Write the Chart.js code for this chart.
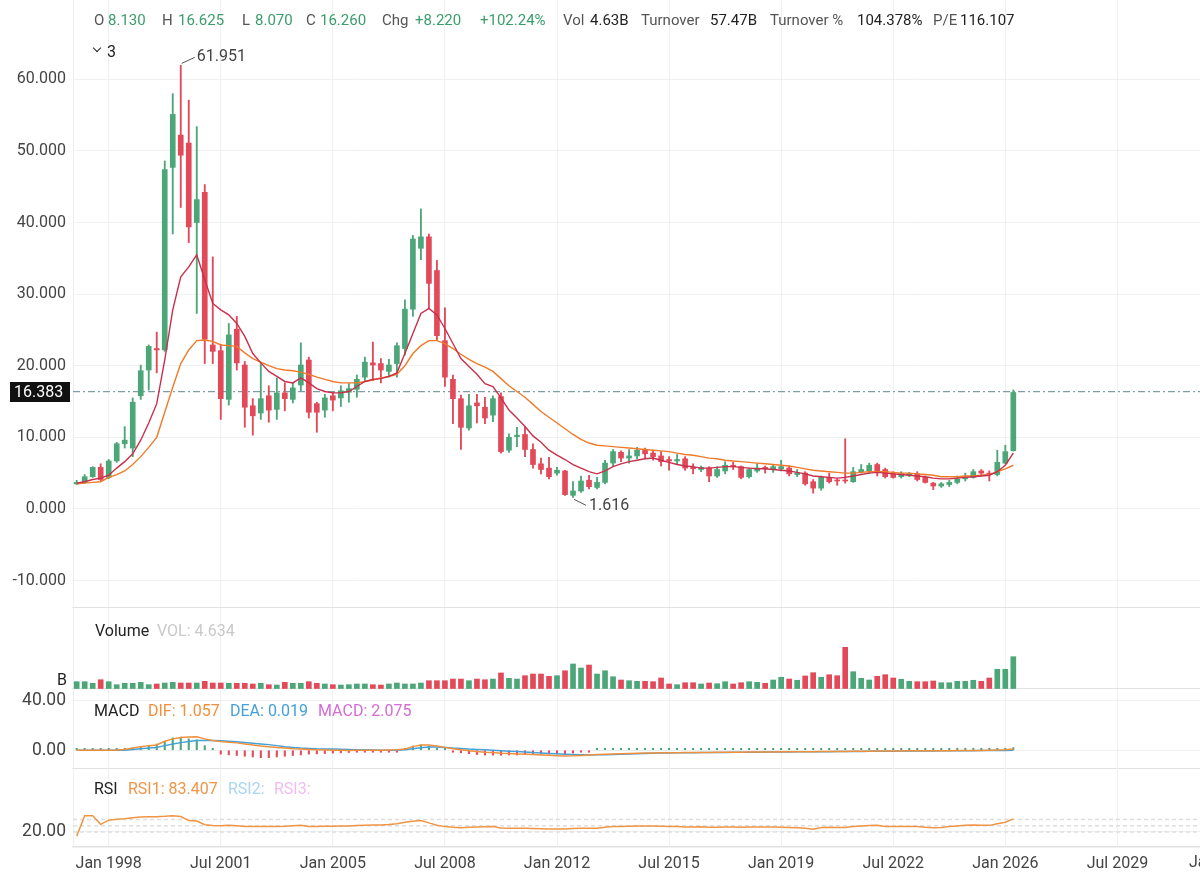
<!DOCTYPE html>
<html>
<head>
<meta charset="utf-8">
<script src="https://cdn.jsdelivr.net/npm/chart.js@4.4.0/dist/chart.umd.min.js"></script>
<style>
  html, body { margin: 0; padding: 0; background: #fff; overflow: hidden; }
  #wrap { position: relative; width: 1200px; height: 878px; overflow: hidden; font-family: Roboto, "Noto Sans", sans-serif; }
  canvas { position: absolute; left: 0; }
  .t { position: absolute; white-space: nowrap; font-size: 16px; line-height: 20px; }
  .hd { font-size: 15px; }
  .lab { color: #555; }
  .up { color: #3a9d6c; }
  .dk { color: #222; }
  .chev { position: absolute; left: 94px; top: 45px; width: 5px; height: 5px; border-right: 1.5px solid #222; border-bottom: 1.5px solid #222; transform: rotate(45deg); }
</style>
</head>
<body>
<div id="wrap">
  <canvas id="priceChart" width="1200" height="608" style="top:0"></canvas>
  <canvas id="volumeChart" width="1200" height="81" style="top:608px"></canvas>
  <canvas id="macdChart" width="1200" height="80" style="top:689px"></canvas>
  <canvas id="rsiChart" width="1200" height="110" style="top:768px"></canvas>

  <!-- quote header -->
  <span class="t hd lab" style="left:94px;top:10px">O</span><span class="t hd up" style="left:108px;top:10px">8.130</span>
  <span class="t hd lab" style="left:162px;top:10px">H</span><span class="t hd up" style="left:178px;top:10px">16.625</span>
  <span class="t hd lab" style="left:242px;top:10px">L</span><span class="t hd up" style="left:255px;top:10px">8.070</span>
  <span class="t hd lab" style="left:306px;top:10px">C</span><span class="t hd up" style="left:320px;top:10px">16.260</span>
  <span class="t hd lab" style="left:382px;top:10px">Chg</span><span class="t hd up" style="left:415px;top:10px">+8.220</span>
  <span class="t hd up" style="left:480px;top:10px">+102.24%</span>
  <span class="t hd lab" style="left:563px;top:10px">Vol</span><span class="t hd dk" style="left:590px;top:10px">4.63B</span>
  <span class="t hd lab" style="left:641px;top:10px">Turnover</span><span class="t hd dk" style="left:710px;top:10px">57.47B</span>
  <span class="t hd lab" style="left:770px;top:10px">Turnover %</span><span class="t hd dk" style="left:857px;top:10px">104.378%</span>
  <span class="t hd lab" style="left:933px;top:10px">P/E</span><span class="t hd dk" style="left:960px;top:10px">116.107</span>

  <div class="chev"></div><span class="t dk" style="left:107px;top:42px">3</span>

  <!-- pane legends -->
  <span class="t dk" style="left:95px;top:621px">Volume</span>
  <span class="t" style="left:157px;top:621px;color:#c9c9c9">VOL: 4.634</span>
  <span class="t dk" style="left:57px;top:670px">B</span>

  <span class="t dk" style="left:94px;top:701px">MACD</span>
  <span class="t" style="left:148px;top:701px;color:#f0903c">DIF: 1.057</span>
  <span class="t" style="left:230px;top:701px;color:#45a0d8">DEA: 0.019</span>
  <span class="t" style="left:318px;top:701px;color:#d46cd6">MACD: 2.075</span>

  <span class="t dk" style="left:94px;top:779px">RSI</span>
  <span class="t" style="left:128px;top:779px;color:#ef9545">RSI1: 83.407</span>
  <span class="t" style="left:228px;top:779px;color:#a8d6ef">RSI2:</span>
  <span class="t" style="left:274px;top:779px;color:#f1bcef">RSI3:</span>

  <span class="t" style="left:1189px;top:852px;color:#444">Jan 2033</span>
</div>
<script>
// quarterly candles, first one is Q1 1997
const FIRST_PERIOD = 1997;

const opens = [3.5,3.7,4.5,5.8,4.4,6.7,9.1,8.5,15.8,19.4, 22.4,22.2,47.7,52.2,51.1,40.0,44.2,22.9,22.1,15.3,
  25.1,20.1,14.4,13.4,15.8,13.9,16.2,15.3,17.3,20.8, 14.7,13.8,15.8,15.5,16.3,16.7,18.4,20.4,20.3,19.2,
  20.3,22.4,27.9,36.4,38.0,33.3,23.5,18.1,15.4,11.3, 14.8,14.2,13.1,15.7,8.2,10.1,10.4,8.3,6.3,5.7,
  5.0,5.3,1.9,2.5,4.0,3.0,3.7,6.4,7.9,7.1, 7.4,8.2,7.8,7.4,6.9,6.7,7.0,5.8,5.5,5.7,
  4.6,5.3,6.1,5.9,4.5,5.3,5.8,5.6,5.6,5.7, 4.8,5.0,3.8,2.9,4.4,4.0,4.0,3.8,5.2,5.3,
  6.2,5.5,4.9,4.5,4.7,4.9,4.4,3.6,3.2,3.4, 3.7,4.2,4.4,5.3,5.0,4.8,6.4,8.13];
const highs = [4.0,4.8,5.9,6.3,6.9,9.3,11.5,15.5,20.1,22.9, 24.7,48.6,58.0,61.951,57.1,53.4,45.3,35.2,23.0,25.9,
  26.9,20.6,15.4,20.3,17.2,18.3,17.6,17.6,23.2,21.2, 14.9,16.0,16.3,17.2,17.5,18.7,21.2,23.3,21.0,20.9,
  23.2,29.2,38.2,41.9,38.4,34.7,28.1,18.7,15.9,16.0, 16.0,15.6,15.8,16.2,10.5,11.4,11.5,9.1,7.1,7.2,
  5.8,5.4,3.8,4.6,4.7,4.4,6.8,8.3,8.1,8.3, 8.6,8.5,8.2,8.0,7.3,7.6,7.3,6.3,6.0,5.9,
  5.9,6.6,6.5,6.0,5.7,6.3,6.0,6.2,6.8,6.0, 5.5,5.2,4.1,4.6,5.0,4.2,9.8,5.8,6.2,6.4,
  6.4,5.7,5.2,5.2,5.1,5.2,4.6,3.7,3.7,4.0, 4.6,5.0,5.5,5.5,5.3,8.2,8.9,16.625];
const lows = [3.4,3.6,4.4,3.9,4.2,6.5,8.5,7.3,15.3,16.6, 19.0,22.0,38.4,42.1,37.2,27.3,20.3,20.3,12.5,14.5,
  19.4,11.4,10.3,12.5,12.1,12.5,13.7,14.8,16.5,12.7, 10.7,12.8,13.7,14.3,14.9,15.6,17.9,17.9,17.6,18.4,
  18.4,21.5,26.9,34.8,28.0,23.6,17.1,11.9,8.3,11.0, 12.0,11.9,12.2,7.8,7.9,8.7,7.3,5.7,4.9,4.2,
  4.7,1.9,1.616,2.3,2.8,2.8,3.5,6.0,6.6,6.4, 7.0,7.0,6.8,6.0,5.4,6.3,5.4,4.9,5.2,3.8,
  4.4,4.9,5.5,4.2,4.3,5.1,5.0,5.1,5.3,4.6, 4.5,3.3,2.2,2.6,3.6,3.3,3.6,3.7,5.0,5.0,
  4.6,4.3,4.3,4.3,4.5,3.9,3.6,2.7,3.0,3.1, 3.5,3.9,4.3,4.7,3.9,4.6,6.3,8.07];
const closes = [3.7,4.5,5.8,4.1,6.7,9.1,9.6,14.9,19.3,22.7, 22.2,47.4,55.1,49.4,39.4,43.2,23.7,22.0,15.4,24.3,
  20.4,14.2,13.0,15.4,13.8,16.2,15.4,16.9,20.1,13.5, 13.5,15.5,15.2,16.5,16.8,18.1,20.5,20.1,19.4,20.1,
  22.8,27.9,37.7,38.0,31.5,24.2,18.4,15.4,11.4,14.4, 14.4,12.7,15.4,8.0,10.0,10.3,8.3,6.2,5.5,4.5,
  5.4,2.0,2.5,3.9,3.1,3.7,6.4,8.0,7.1,7.4, 8.2,7.7,7.3,6.6,6.7,6.9,5.7,5.6,5.8,4.6,
  5.5,6.1,5.9,4.4,5.5,5.7,5.6,5.9,5.9,4.9, 5.0,3.5,2.9,4.4,3.8,3.9,3.9,5.2,5.5,6.1,
  5.2,4.5,4.4,4.9,4.9,4.1,3.7,3.2,3.5,3.7, 4.2,4.3,5.2,5.0,4.8,6.5,8.0,16.26];

// the two moving averages as drawn (red = fast, orange = slow)
const maFast = [3.6,3.8,4.1,4.3,4.7,5.7,6.6,7.7,9.6,12.0, 14.7,20.8,27.8,32.4,33.8,35.5,32.0,28.7,27.8,27.1,
  25.9,24.1,21.7,20.4,19.2,18.5,17.8,17.6,18.3,17.6, 16.8,16.4,16.2,16.2,16.4,17.1,17.8,18.1,18.2,18.5,
  19.0,21.7,24.5,27.3,28.0,27.1,25.2,23.1,21.0,19.9, 18.8,17.5,17.1,15.5,13.8,12.7,11.5,10.2,9.3,8.2,
  7.5,6.9,6.2,5.7,5.2,4.9,5.3,5.9,6.3,6.6, 6.8,7.0,7.1,6.8,6.5,6.2,6.0,5.9,5.7,5.7,
  5.8,5.9,5.9,5.8,5.7,5.6,5.6,5.5,5.4,5.3, 5.1,4.9,4.6,4.5,4.4,4.3,4.4,4.6,4.8,5.0,
  5.1,5.0,4.9,4.8,4.7,4.6,4.5,4.3,4.2,4.2, 4.3,4.4,4.5,4.6,4.7,5.2,6.1,7.8];
const maSlow = [3.5,3.6,3.7,3.8,4.4,4.8,5.3,6.2,7.3,8.6, 10.0,13.5,17.0,20.3,22.2,23.5,23.6,23.4,22.9,22.8,
  22.7,21.8,21.0,20.5,20.0,19.6,19.4,19.3,19.1,18.8, 18.4,18.1,17.8,17.6,17.6,17.6,17.8,18.0,18.3,18.5,
  18.8,20.0,21.7,22.8,23.5,23.5,23.1,22.4,21.6,20.9, 20.3,19.8,19.2,18.2,17.2,16.4,15.6,14.6,13.6,12.8,
  12.0,11.2,10.4,9.7,9.2,8.9,8.8,8.7,8.6,8.5, 8.4,8.3,8.2,8.1,8.0,7.8,7.6,7.5,7.3,7.1,
  7.0,6.8,6.7,6.6,6.5,6.4,6.3,6.2,6.1,6.0, 5.8,5.6,5.4,5.3,5.2,5.1,5.0,5.0,5.1,5.2,
  5.2,5.2,5.1,5.0,5.0,4.9,4.8,4.7,4.5,4.5, 4.5,4.6,4.6,4.7,4.8,5.2,5.6,6.1];

// volume, billions
const volumes = [1.05,1.05,0.82,1.33,1.05,0.62,0.82,0.82,0.96,0.62, 0.72,0.86,0.96,0.86,0.86,0.86,1.10,0.86,0.86,0.82,
  0.82,0.82,0.72,0.82,0.62,0.57,0.96,0.82,0.82,1.05, 0.82,0.72,0.62,0.57,0.62,0.72,0.72,0.62,0.57,0.72,
  0.86,0.72,0.72,0.86,1.19,1.19,1.19,1.43,1.43,1.19, 1.43,1.33,1.43,2.30,1.53,1.43,1.91,2.15,2.15,1.82,
  1.91,2.62,3.59,3.01,3.44,2.15,2.62,1.76,1.29,1.19, 1.10,1.10,1.05,1.58,0.72,0.62,0.90,0.90,0.72,0.86,
  0.76,1.05,0.72,0.90,1.05,0.96,0.82,1.29,1.68,1.43, 1.25,1.87,2.34,1.68,2.05,1.91,5.98,2.48,1.53,1.29,
  1.82,2.05,1.58,1.39,1.10,1.05,1.05,1.15,0.90,0.90, 1.10,1.10,1.25,1.10,1.58,2.83,2.83,4.634];

// MACD pane
const dif = [0,0,0.05,0.05,0.1,0.3,0.7,1.8,2.9,3.7, 4.2,7.2,9.1,10.2,10.5,10.7,9.1,7.8,6.9,6.4,
  5.9,5.0,4.2,3.4,2.9,2.3,1.8,1.2,0.95,0.7, 0.4,0.3,0.1,0.0,-0.1,0.0,0.0,0.1,0.1,0.2,
  0.4,0.95,2.9,4.2,4.2,3.4,2.3,1.2,0.4,-0.4, -1.0,-1.5,-1.8,-2.3,-2.6,-2.9,-3.1,-3.4,-3.7,-4.0,
  -4.3,-4.5,-4.4,-4.1,-3.7,-3.4,-3.2,-2.9,-2.7,-2.5, -2.3,-2.2,-2.1,-2.0,-1.9,-1.9,-1.8,-1.8,-1.7,-1.7,
  -1.6,-1.6,-1.5,-1.5,-1.4,-1.4,-1.3,-1.3,-1.2,-1.2, -1.1,-1.1,-1.1,-1.0,-1.0,-0.9,-0.9,-0.8,-0.8,-0.7,
  -0.6,-0.6,-0.5,-0.5,-0.4,-0.4,-0.4,-0.3,-0.3,-0.3, -0.2,-0.2,-0.1,-0.1,0.0,0.2,0.5,1.057];
const dea = [0,0,0,0,0.02,0.05,0.1,0.7,1.2,1.8, 2.3,3.7,5.0,6.1,6.9,7.8,7.8,7.8,7.5,7.2,
  6.7,6.1,5.6,5.0,4.5,3.7,2.9,2.3,1.8,1.5, 1.2,1.1,1.0,0.8,0.7,0.5,0.4,0.3,0.1,0.1,
  0.1,0.4,1.2,2.0,2.6,2.6,2.3,1.8,1.5,0.95, 0.7,0.4,0.1,-0.3,-0.7,-1.0,-1.4,-1.8,-2.2,-2.5,
  -2.8,-3.1,-3.3,-3.5,-3.7,-3.6,-3.5,-3.3,-3.1,-2.9, -2.7,-2.5,-2.4,-2.2,-2.1,-2.0,-1.9,-1.9,-1.8,-1.8,
  -1.7,-1.7,-1.6,-1.6,-1.5,-1.5,-1.4,-1.4,-1.3,-1.3, -1.2,-1.2,-1.2,-1.1,-1.1,-1.0,-1.0,-0.9,-0.9,-0.8,
  -0.8,-0.7,-0.7,-0.6,-0.6,-0.5,-0.5,-0.5,-0.4,-0.4, -0.4,-0.3,-0.3,-0.2,-0.2,-0.1,-0.1,0.019];
const macdHist = [0.05,0.05,0.1,0.1,0.15,0.3,0.7,1.8,2.9,3.7, 5.0,7.2,9.9,10.5,9.1,8.3,3.7,0.1,-3.1,-3.7,
  -4.2,-4.8,-5.3,-5.9,-5.9,-5.3,-4.8,-4.2,-3.7,-3.1, -2.9,-2.6,-2.3,-2.0,-1.8,-1.5,-1.2,-1.0,-0.7,-0.4,
  -0.1,0.9,3.4,4.4,3.2,1.6,0.2,-1.0,-2.0,-2.7, -3.4,-3.8,-3.8,-4.0,-3.8,-3.8,-3.4,-3.2,-3.0,-3.0,
  -3.0,-2.8,-2.2,-1.2,-0.2,0.3,0.6,0.9,1.1,1.2, 1.2,1.1,1.1,1.0,0.9,0.8,0.8,0.7,0.7,0.7,
  0.6,0.6,0.6,0.6,0.6,0.6,0.6,0.6,0.6,0.6, 0.6,0.6,0.5,0.5,0.5,0.5,0.5,0.5,0.5,0.5,
  0.5,0.5,0.5,0.5,0.5,0.5,0.5,0.5,0.5,0.5, 0.5,0.5,0.5,0.5,0.5,0.6,0.9,2.075];

// RSI pane
const rsi1 = [0,99,99,57,77,81,84,89,92,94, 94,96,99,95,75,73,55,51,50,53,
  50,46,47,47,47,47,48,50,52,47, 47,48,48,49,49,51,53,54,54,56,
  60,67,72,75,64,53,46,43,41,43, 44,45,46,39,38,38,38,37,36,35,
  35,34,37,38,38,38,43,46,47,48, 49,49,49,48,47,46,44,44,45,43,
  43,44,44,43,44,44,44,44,43,42, 40,38,33,42,43,42,42,46,49,51,
  52,46,46,47,47,46,43,41,42,46, 49,52,54,53,52,60,67,83.407];
const rsiGuides = [20, 50, 80];

const lastPrice = 16.383;
const priceTicks = [-10, 0, 10, 20, 30, 40, 50, 60];
const macdTicks = [0, 40];
const rsiTicks = [20];
const timeTicks = [1998, 2001.5, 2005, 2008.5, 2012, 2015.5, 2019, 2022.5, 2026, 2029.5];
const timeTickLabels = ['Jan 1998', 'Jul 2001', 'Jan 2005', 'Jul 2008', 'Jan 2012', 'Jul 2015', 'Jan 2019', 'Jul 2022', 'Jan 2026', 'Jul 2029'];

const X_MIN = 1996.885, X_MAX = 2032.08;
const FONT = 'Roboto, "Noto Sans", sans-serif';
const UP = '#4ca678', DOWN = '#e24a5a';
const AXIS_W = 73;

const periods = closes.map((_, i) => FIRST_PERIOD + i * 0.25);
const candleColors = closes.map((c, i) => c >= opens[i] ? UP : DOWN);
const pts = arr => arr.map((v, i) => ({ x: periods[i], y: v }));

function timeAxis(showLabels, axisHeight) {
    return {
        type: 'linear',
        min: X_MIN,
        max: X_MAX,
        offset: false,
        afterBuildTicks: s => { s.ticks = timeTicks.map(v => ({ value: v })); },
        afterFit: s => { s.height = axisHeight; s.paddingLeft = 0; s.paddingRight = 0; },
        grid: { color: '#f0f0f0', lineWidth: 1, drawTicks: false, offset: false },
        border: { display: true, color: '#e2e2e2', width: 1.5 },
        ticks: {
            display: showLabels,
            autoSkip: false,
            maxRotation: 0,
            padding: 7,
            color: '#444',
            font: { family: FONT, size: 16 },
            callback: (v, i) => timeTickLabels[i]
        }
    };
}

function valueAxis(min, max, ticks, decimals, showLabels, fontSize) {
    return {
        type: 'linear',
        position: 'left',
        min: min,
        max: max,
        afterBuildTicks: s => { s.ticks = ticks.map(v => ({ value: v })); },
        afterFit: s => { s.width = AXIS_W; s.paddingTop = 0; s.paddingBottom = 0; },
        grid: { color: '#f0f0f0', drawTicks: false },
        border: { display: true, color: '#eeeeee' },
        ticks: {
            display: showLabels,
            padding: 7,
            color: '#444',
            font: { family: FONT, size: fontSize || 16 },
            callback: v => v.toFixed(decimals)
        }
    };
}

const baseOptions = (xAxis, yAxis) => ({
    responsive: false,
    maintainAspectRatio: false,
    devicePixelRatio: 1,
    animation: false,
    events: [],
    layout: { padding: 0 },
    plugins: { legend: { display: false }, tooltip: { enabled: false } },
    scales: { x: xAxis, y: yAxis }
});

// price tag on the left + high/low markers
const priceOverlay = {
    id: 'priceOverlay',
    afterDraw(chart) {
        const { ctx, scales: { x, y } } = chart;
        ctx.save();
        const py = y.getPixelForValue(lastPrice);
        ctx.fillStyle = '#111';
        ctx.fillRect(10, Math.round(py) - 10, 60, 20);
        ctx.fillStyle = '#fff';
        ctx.font = '16px ' + FONT;
        ctx.textBaseline = 'middle';
        ctx.textAlign = 'left';
        ctx.fillText(lastPrice.toFixed(3), 14, py + 1);

        const hiIdx = highs.indexOf(Math.max(...highs));
        const loIdx = lows.indexOf(Math.min(...lows));
        const hx = x.getPixelForValue(periods[hiIdx]), hy = y.getPixelForValue(highs[hiIdx]);
        const lx = x.getPixelForValue(periods[loIdx]), ly = y.getPixelForValue(lows[loIdx]);
        ctx.strokeStyle = '#555';
        ctx.lineWidth = 1;
        ctx.beginPath();
        ctx.moveTo(hx + 1, hy - 2); ctx.lineTo(hx + 14, hy - 8);
        ctx.moveTo(lx + 1, ly + 2); ctx.lineTo(lx + 13, ly + 8);
        ctx.stroke();
        ctx.fillStyle = '#444';
        ctx.fillText(highs[hiIdx].toFixed(3), hx + 16, hy - 8);
        ctx.fillText(lows[loIdx].toFixed(3), lx + 16, ly + 9);
        ctx.restore();
    }
};

const charts = {};

charts.price = new Chart(document.getElementById('priceChart'), {
    type: 'bar',
    data: {
        datasets: [
            { type: 'line', data: pts(maFast), borderColor: '#c92f4b', borderWidth: 1.4, pointRadius: 0, order: 0 },
            { type: 'line', data: pts(maSlow), borderColor: '#f07a2a', borderWidth: 1.4, pointRadius: 0, order: 0 },
            {
                data: periods.map((t, i) => ({ x: t, y: [opens[i], closes[i]] })),
                backgroundColor: candleColors, barThickness: 5, grouped: false, minBarLength: 1, order: 1
            },
            {
                data: periods.map((t, i) => ({ x: t, y: [lows[i], highs[i]] })),
                backgroundColor: candleColors, barThickness: 1.2, grouped: false, order: 2
            },
            {
                type: 'line', data: [{ x: X_MIN, y: lastPrice }, { x: X_MAX, y: lastPrice }],
                borderColor: '#7f9ea3', borderWidth: 1.3, borderDash: [7, 3, 2, 3], pointRadius: 0, order: 3
            }
        ]
    },
    options: baseOptions(timeAxis(false, 0), valueAxis(-13.84, 71.08, priceTicks, 3, true)),
    plugins: [priceOverlay]
});

charts.volume = new Chart(document.getElementById('volumeChart'), {
    type: 'bar',
    data: {
        datasets: [{
            data: pts(volumes), backgroundColor: candleColors, barThickness: 5, grouped: false
        }]
    },
    options: baseOptions(timeAxis(false, 0), valueAxis(0, 11.62, [0], 0, false))
});

charts.macd = new Chart(document.getElementById('macdChart'), {
    type: 'bar',
    data: {
        datasets: [
            { type: 'line', data: pts(dif), borderColor: '#f0903c', borderWidth: 1.5, pointRadius: 0, order: 0 },
            { type: 'line', data: pts(dea), borderColor: '#45a0d8', borderWidth: 1.5, pointRadius: 0, order: 0 },
            {
                data: pts(macdHist), backgroundColor: macdHist.map(v => v >= 0 ? UP : DOWN),
                barThickness: 1.4, grouped: false, minBarLength: 2, order: 1
            }
        ]
    },
    options: baseOptions(timeAxis(false, 0), valueAxis(-14.95, 48.89, macdTicks, 2, true, 17.5))
});

charts.rsi = new Chart(document.getElementById('rsiChart'), {
    type: 'line',
    data: {
        datasets: [
            { data: pts(rsi1), borderColor: '#ef9545', borderWidth: 1.5, pointRadius: 0, order: 0 },
            ...rsiGuides.map(g => ({
                data: [{ x: X_MIN, y: g }, { x: X_MAX, y: g }],
                borderColor: '#dedede', borderWidth: 1.5, borderDash: [4, 3], pointRadius: 0, order: 1
            }))
        ]
    },
    options: baseOptions(timeAxis(true, 31), valueAxis(-52.5, 329.2, rsiTicks, 2, true, 17.5))
});
</script>
</body>
</html>
